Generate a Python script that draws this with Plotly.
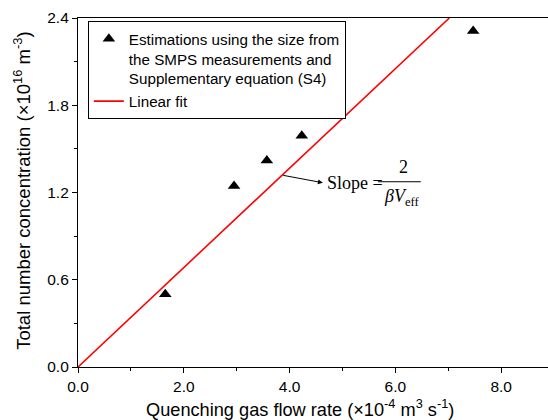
import plotly.graph_objects as go

# Data
flow_rate = [1.65, 2.95, 3.57, 4.23, 7.47]          # x 10^-4 m^3 s^-1
number_conc = [0.50, 1.245, 1.42, 1.59, 2.31]      # x 10^16 m^-3
fit_x = [0.0, 7.02]
fit_y = [0.0, 2.4]

x_ticks = [0, 2, 4, 6, 8]
x_labels = ["0.0", "2.0", "4.0", "6.0", "8.0"]
y_ticks = [0, 0.6, 1.2, 1.8, 2.4]
y_labels = ["0.0", "0.6", "1.2", "1.8", "2.4"]

fig = go.Figure()
fig.add_trace(go.Scatter(
    x=flow_rate, y=number_conc, mode="markers",
    marker=dict(symbol="triangle-up", size=11, color="black"),
    name="Estimations using the size from<br>the SMPS measurements and<br>Supplementary equation (S4)",
))
fig.add_trace(go.Scatter(
    x=fit_x, y=fit_y, mode="lines",
    line=dict(color="#ff0000", width=1.6),
    name="Linear fit",
))

sans = "Arial, Liberation Sans"
axis_font = dict(family=sans, size=15.5, color="black")
fig.update_layout(
    width=548, height=420,
    margin=dict(l=78, r=0, t=18, b=53),
    paper_bgcolor="white", plot_bgcolor="white",
    font=dict(family=sans, size=14, color="black"),
    showlegend=True,
    legend=dict(
        x=0.021, y=0.99, xanchor="left", yanchor="top",
        bordercolor="black", borderwidth=1, bgcolor="white",
        font=dict(family=sans, size=15.2, color="black"),
        valign="top", tracegroupgap=0, itemwidth=30,
    ),
    xaxis=dict(
        range=[0, 8.885], tickvals=x_ticks, ticktext=x_labels,
        showline=True, linecolor="black", linewidth=1.2, mirror=True,
        ticks="outside", ticklen=5, tickwidth=1.2, tickcolor="black",
        minor=dict(dtick=1, ticks="outside", ticklen=3, tickwidth=1, tickcolor="black"),
        showgrid=False, zeroline=False, tickfont=axis_font,
    ),
    yaxis=dict(
        range=[0, 2.4], tickvals=y_ticks, ticktext=y_labels,
        showline=True, linecolor="black", linewidth=1.2,
        ticks="outside", ticklen=5, tickwidth=1.2, tickcolor="black",
        minor=dict(dtick=0.3, ticks="outside", ticklen=3, tickwidth=1, tickcolor="black"),
        showgrid=False, zeroline=False, tickfont=axis_font,
    ),
)

# axis titles
fig.add_annotation(xref="paper", yref="paper", x=0.473, y=-0.117,
                   text="Quenching gas flow rate (×10<sup>-4</sup> m<sup>3</sup> s<sup>-1</sup>)",
                   showarrow=False, xanchor="center", yanchor="middle",
                   font=dict(family=sans, size=18.2, color="black"))
fig.add_annotation(xref="paper", yref="paper", x=-0.119, y=0.505,
                   text="Total number concentration (×10<sup>16</sup> m<sup>-3</sup>)",
                   showarrow=False, xanchor="center", yanchor="middle", textangle=-90,
                   font=dict(family=sans, size=18.5, color="black"))

serif = dict(family="Times New Roman, Liberation Serif", size=18, color="black")
# arrow from the fit line to the label
fig.add_annotation(x=4.63, y=1.267, ax=3.85, ay=1.32, axref="x", ayref="y",
                   text="", showarrow=True, arrowhead=2, arrowsize=1, arrowwidth=1,
                   arrowcolor="black")
fig.add_annotation(x=4.66, y=1.267, text="Slope =", showarrow=False,
                   xanchor="left", yanchor="middle", font=serif)
fig.add_annotation(x=6.16, y=1.375, text="2", showarrow=False,
                   xanchor="center", yanchor="middle", font=serif)
fig.add_annotation(x=6.12, y=1.165, text="<i>βV</i><sub>eff</sub>", showarrow=False,
                   xanchor="center", yanchor="middle", font=serif)
fig.add_shape(type="line", x0=5.67, x1=6.48, y0=1.274, y1=1.274,
              line=dict(color="black", width=1))

fig.write_html("out.html")
